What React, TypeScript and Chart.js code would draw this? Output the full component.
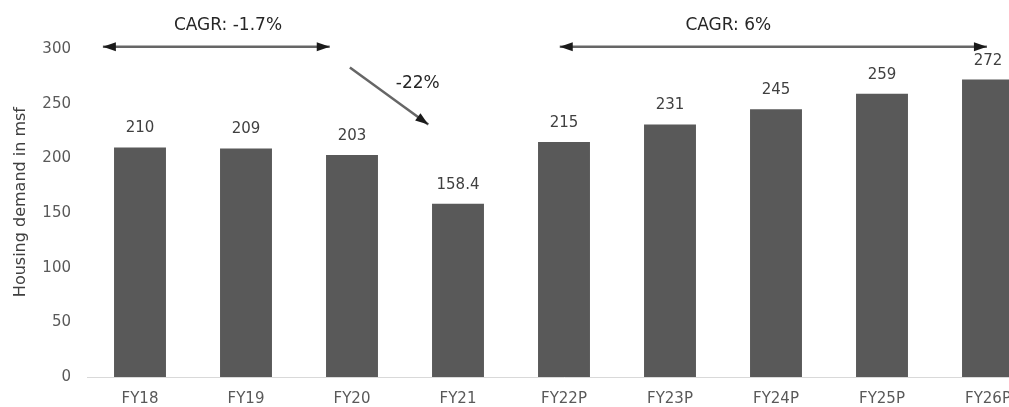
import React, { useEffect, useRef } from "react";
import Chart from "chart.js/auto";

const categories = ["FY18", "FY19", "FY20", "FY21", "FY22P", "FY23P", "FY24P", "FY25P", "FY26P"];
const demandValues = [210, 209, 203, 158.4, 215, 231, 245, 259, 272];
const valueLabels = ["210", "209", "203", "158.4", "215", "231", "245", "259", "272"];
const yTicks = [0, 50, 100, 150, 200, 250, 300];
const axisTitle = "Housing demand in msf";

// annotations: [fromIndex, fromValue, toIndex, toValue, doubleHeaded]
const arrowCagrPast = [-0.35, 302, 1.79, 302, 1];
const arrowCagrFuture = [3.96, 302, 7.99, 302, 1];
const arrowDrop = [1.98, 283, 2.72, 231, 0];
// text annotations: [text, index, value]
const textCagrPast = ["CAGR: -1.7%", 0.83, 321];
const textCagrFuture = ["CAGR: 6%", 5.55, 321];
const textDrop = ["-22%", 2.62, 268];
// value at which the axis title is centred
const axisTitleCenterValue = 160;

const FONT = "'DejaVu Sans', sans-serif";

const annotPlugin = {
  id: "annot",
  afterDatasetsDraw(chart: any) {
    const { ctx, scales } = chart;
    const x = scales.x;
    const y = scales.y;
    const x0 = x.getPixelForValue(0);
    const step = x.getPixelForValue(1) - x0;
    const px = (i: number) => x0 + i * step;
    const py = (v: number) => y.getPixelForValue(v);

    // axis title
    ctx.save();
    ctx.font = `16px ${FONT}`;
    ctx.fillStyle = "#404040";
    ctx.textAlign = "center";
    ctx.textBaseline = "middle";
    ctx.translate(y.left + 21, py(axisTitleCenterValue));
    ctx.rotate(-Math.PI / 2);
    ctx.fillText(axisTitle, 0, 0);
    ctx.restore();

    // data labels
    const meta = chart.getDatasetMeta(0);
    ctx.save();
    ctx.font = `15px ${FONT}`;
    ctx.fillStyle = "#404040";
    ctx.textAlign = "center";
    ctx.textBaseline = "middle";
    meta.data.forEach((bar: any, i: number) => {
      ctx.fillText(valueLabels[i], bar.x, bar.y - 19);
    });
    ctx.restore();

    const head = (xa: number, ya: number, xb: number, yb: number) => {
      const ang = Math.atan2(yb - ya, xb - xa);
      const L = 13;
      const W = 4.5;
      ctx.beginPath();
      ctx.moveTo(xb, yb);
      ctx.lineTo(xb - L * Math.cos(ang) + W * Math.sin(ang), yb - L * Math.sin(ang) - W * Math.cos(ang));
      ctx.lineTo(xb - L * Math.cos(ang) - W * Math.sin(ang), yb - L * Math.sin(ang) + W * Math.cos(ang));
      ctx.closePath();
      ctx.fill();
    };

    const drawArrow = (a: number[]) => {
      const xa = px(a[0]), ya = py(a[1]), xb = px(a[2]), yb = py(a[3]);
      ctx.save();
      ctx.strokeStyle = "#666666";
      ctx.fillStyle = "#1a1a1a";
      ctx.lineWidth = 2.5;
      ctx.beginPath();
      ctx.moveTo(xa, ya);
      ctx.lineTo(xb, yb);
      ctx.stroke();
      head(xa, ya, xb, yb);
      if (a[4]) head(xb, yb, xa, ya);
      ctx.restore();
    };
    drawArrow(arrowCagrPast);
    drawArrow(arrowCagrFuture);
    drawArrow(arrowDrop);

    ctx.save();
    ctx.font = `17px ${FONT}`;
    ctx.fillStyle = "#262626";
    ctx.textAlign = "center";
    ctx.textBaseline = "middle";
    [textCagrPast, textCagrFuture, textDrop].forEach((t: any[]) => {
      ctx.fillText(t[0], px(t[1]), py(t[2]));
    });
    ctx.restore();
  },
};

export default function App() {
  const ref = useRef<HTMLCanvasElement>(null);
  useEffect(() => {
    if (!ref.current) return;
    const chart = new Chart(ref.current, {
      type: "bar",
      data: {
        labels: categories,
        datasets: [
          {
            data: demandValues,
            backgroundColor: "#595959",
            barPercentage: 0.49,
            categoryPercentage: 1,
          },
        ],
      },
      options: {
        responsive: false,
        animation: false,
        devicePixelRatio: 1,
        layout: { padding: { top: 49, left: 0, right: 0, bottom: 0 } },
        plugins: { legend: { display: false }, tooltip: { enabled: false } },
        scales: {
          x: {
            grid: { display: false, drawTicks: false },
            border: { display: true, color: "#d9d9d9", width: 1 },
            ticks: { color: "#595959", font: { family: FONT, size: 15 }, padding: 13, maxRotation: 0 },
            afterFit: (s: any) => {
              s.height = 30;
            },
          },
          y: {
            min: 0,
            max: 300,
            afterBuildTicks: (s: any) => {
              s.ticks = yTicks.map((v) => ({ value: v }));
            },
            grid: { display: false, drawTicks: false },
            border: { display: false },
            ticks: { color: "#595959", font: { family: FONT, size: 15 }, padding: 16 },
            title: { display: false },
            afterFit: (s: any) => {
              s.width = 87;
            },
          },
        },
      },
      plugins: [annotPlugin],
    });
    return () => chart.destroy();
  }, []);
  return (
    <div style={{ position: "fixed", left: 0, top: 0, width: 1009, height: 407, overflow: "hidden", background: "#fff" }}>
      <canvas ref={ref} width={1041} height={407} style={{ width: 1041, height: 407, display: "block" }} />
    </div>
  );
}
